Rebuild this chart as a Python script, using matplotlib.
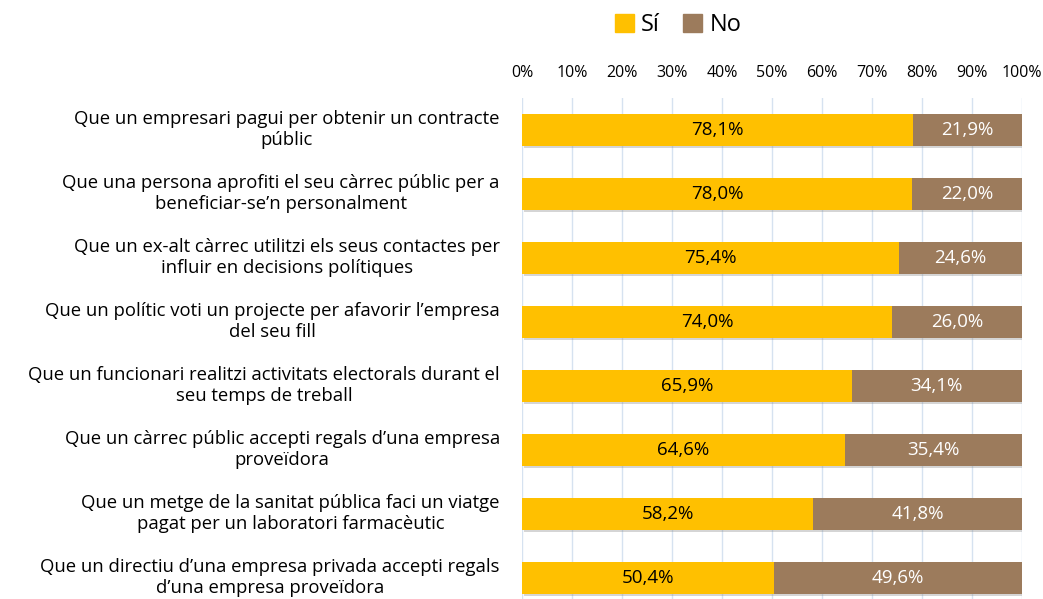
import matplotlib
matplotlib.use("Agg")
import matplotlib.pyplot as plt
import matplotlib.patheffects as pe
import matplotlib.transforms as mtransforms
from matplotlib.patches import Patch

plt.rcParams['font.family'] = ['Open Sans', 'DejaVu Sans']

categories = [
    "Que un empresari pagui per obtenir un contracte\npúblic",
    "Que una persona aprofiti el seu càrrec públic per a\nbeneficiar-se’n personalment",
    "Que un ex-alt càrrec utilitzi els seus contactes per\ninfluir en decisions polítiques",
    "Que un polític voti un projecte per afavorir l’empresa\ndel seu fill",
    "Que un funcionari realitzi activitats electorals durant el\nseu temps de treball",
    "Que un càrrec públic accepti regals d’una empresa\nproveïdora",
    "Que un metge de la sanitat pública faci un viatge\npagat per un laboratori farmacèutic",
    "Que un directiu d’una empresa privada accepti regals\nd’una empresa proveïdora",
]
si = [78.1, 78.0, 75.4, 74.0, 65.9, 64.6, 58.2, 50.4]
no = [21.9, 22.0, 24.6, 26.0, 34.1, 35.4, 41.8, 49.6]
ticks = list(range(0, 101, 10))

c_si = "#FFC000"
c_no = "#9C7B5C"

fig = plt.figure(figsize=(10.43, 5.99), dpi=100)
ax = fig.add_axes([522 / 1043, -11 / 599, 500 / 1043, 512 / 599])

y = list(range(len(categories)))
shadow = [pe.SimplePatchShadow(offset=(1.5, -1.5), shadow_rgbFace="#888888", alpha=0.35), pe.Normal()]
ax.barh(y, si, height=0.5, color=c_si, zorder=3, path_effects=shadow)
ax.barh(y, no, left=si, height=0.5, color=c_no, zorder=3, path_effects=shadow)

for i in y:
    ax.text(si[i] / 2, i, f"{si[i]:.1f}%".replace(".", ","), ha="center", va="center",
            fontsize=13.5, color="black", zorder=4)
    ax.text(si[i] + no[i] / 2, i, f"{no[i]:.1f}%".replace(".", ","), ha="center", va="center",
            fontsize=13.5, color="white", zorder=4)

ax.set_xlim(0, 100)
ax.set_ylim(len(categories) - 0.5, -0.5)
ax.set_xticks(ticks)
ax.set_xticklabels([f"{t}%" for t in ticks], fontsize=11.5)
ax.xaxis.tick_top()
ax.tick_params(axis="x", length=0, pad=12)
ax.set_yticks(y)
ax.set_yticklabels(categories, fontsize=13.3, multialignment="center", linespacing=1.2)
ax.tick_params(axis="y", length=0, pad=16)
up = mtransforms.ScaledTranslation(0, 4 / 100, fig.dpi_scale_trans)
for lab in ax.get_yticklabels():
    lab.set_transform(lab.get_transform() + up)
ax.grid(axis="x", color="#D6E2F0", linewidth=1, zorder=0)
for s in ax.spines.values():
    s.set_visible(False)

handles = [Patch(color=c_si, label="Sí"), Patch(color=c_no, label="No")]
fig.legend(handles=handles, loc="center", bbox_to_anchor=(678 / 1043, 1 - 25 / 599), ncol=2,
           frameon=False, fontsize=17, handlelength=0.8, handleheight=0.8, handletextpad=0.3,
           columnspacing=1.0)

fig.savefig("out.png", dpi=100)
